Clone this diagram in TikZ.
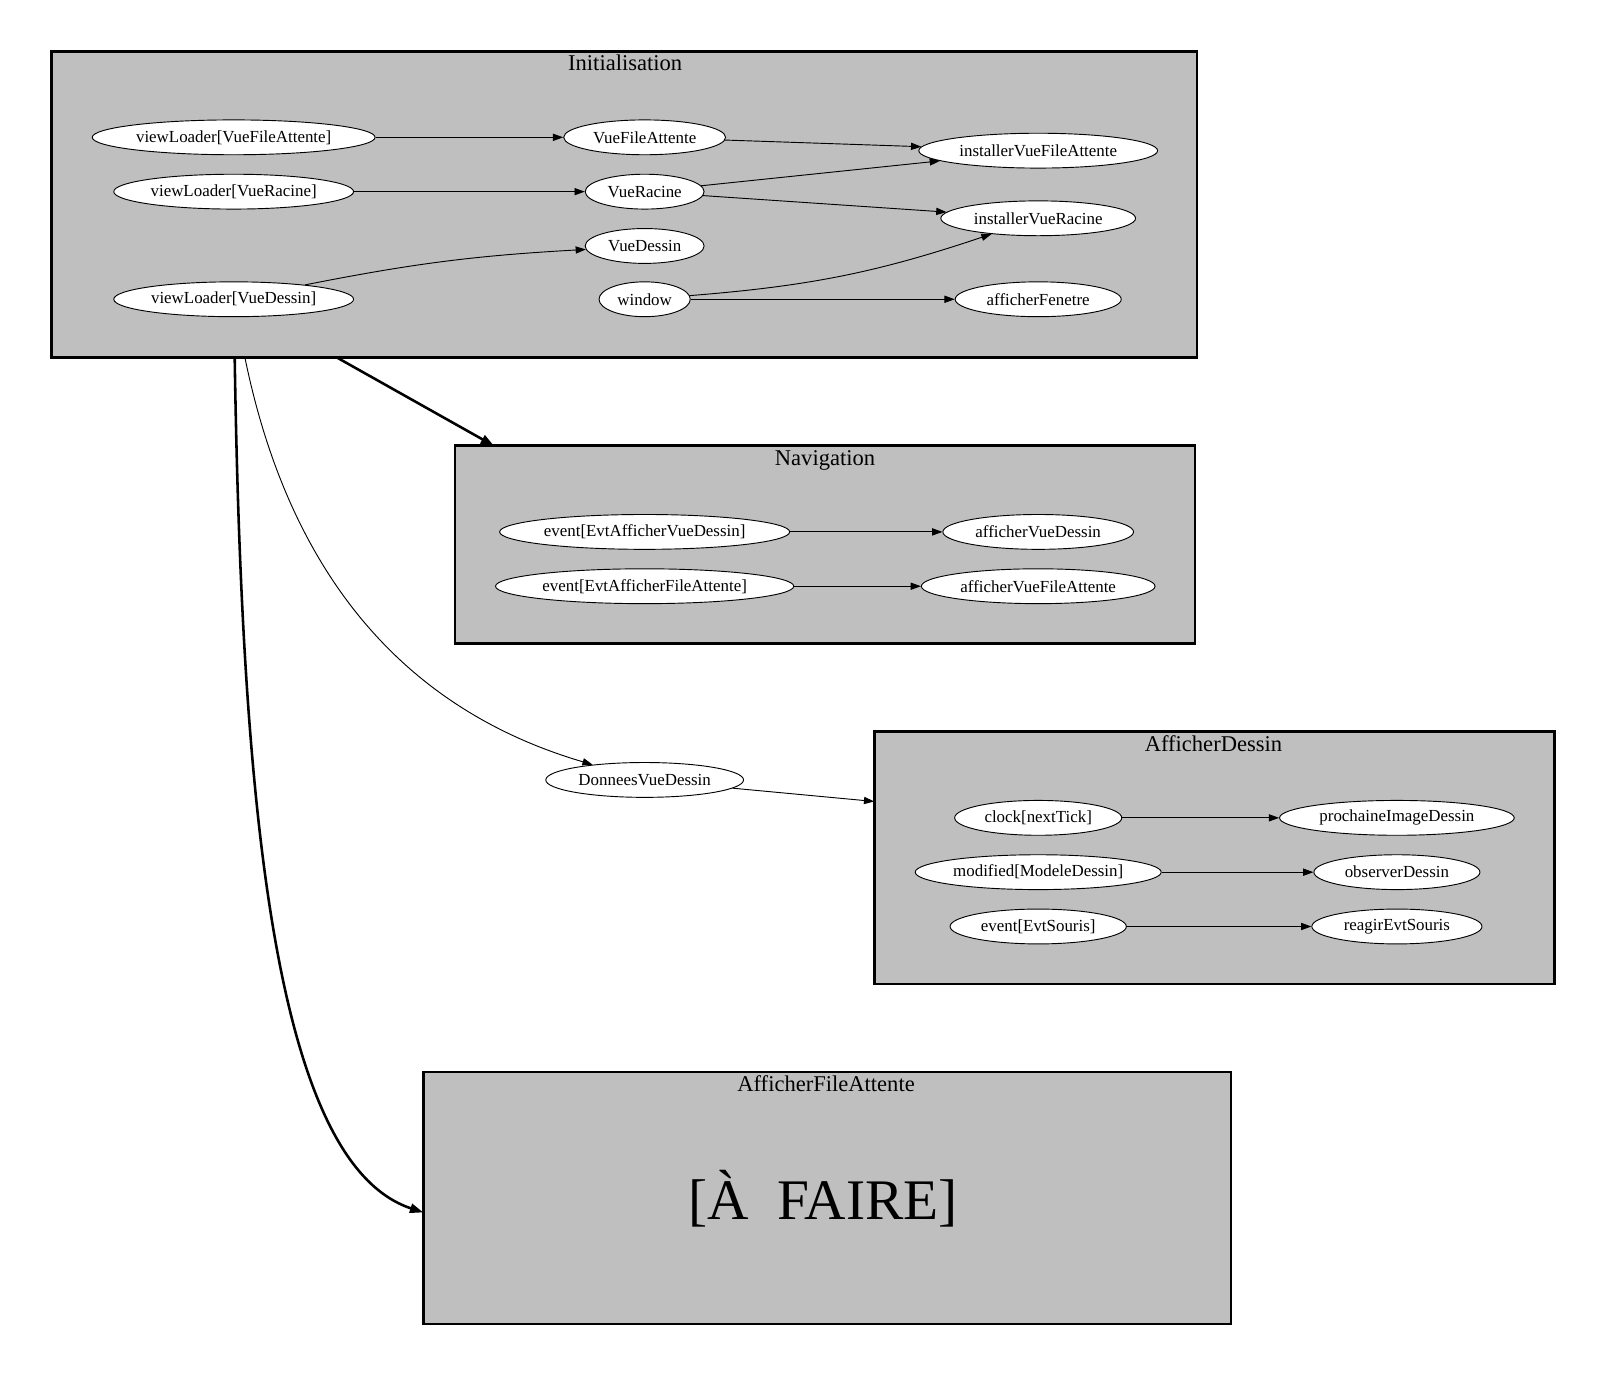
\documentclass[tikz,border=0pt]{standalone}
\usepackage{fontspec}
\setmainfont{Liberation Serif}
\usetikzlibrary{shapes.geometric,arrows.meta}
\definecolor{clgray}{RGB}{191,191,191}
\begin{document}
\begin{tikzpicture}[x=1pt,y=-1pt,
 nd/.style={ellipse, draw, fill=white, line width=0.9pt, inner sep=0pt, minimum height=34pt, font=\fontsize{16.5}{19}\selectfont},
 cl/.style={draw, fill=clgray, line width=2.6pt, inner sep=0pt},
 ttl/.style={font=\fontsize{22}{25}\selectfont, inner sep=0pt, anchor=base},
 ed/.style={line width=0.9pt, -{Triangle[length=10pt,width=7pt]}},
 thk/.style={line width=2.5pt, -{Triangle[length=13pt,width=9pt]}}]
\useasboundingbox[fill=white] (0,0) rectangle (1568,1343);

% clusters
\node[cl, minimum width=1118, minimum height=299] (init) at (609,199.5) {};
\node[cl, minimum width=722, minimum height=193] (nav) at (805,531.5) {};
\node[cl, minimum width=664, minimum height=246] (ad) at (1185,837) {};
\node[cl, minimum width=788, minimum height=246] (afa) at (807,1169) {};

\node[ttl] (tinit) at (610,69) {Initialisation};
\node[ttl] (tnav) at (805,454) {Navigation};
\node[ttl] (tad) at (1184,733) {AfficherDessin};
\node[ttl] (tafa) at (806,1065) {AfficherFileAttente};
\node[font=\fontsize{56}{60}\selectfont, inner sep=0pt] (todo) at (803,1170) {[À\ \ FAIRE]};

% Initialisation nodes
\node[nd, minimum width=276] (vlfa) at (228,134) {viewLoader[VueFileAttente]};
\node[nd, minimum width=234] (vlr) at (228,187) {viewLoader[VueRacine]};
\node[nd, minimum width=234] (vld) at (228,292) {viewLoader[VueDessin]};
\node[nd, minimum width=158] (vfa) at (629,134) {VueFileAttente};
\node[nd, minimum width=116] (vr) at (629,187) {VueRacine};
\node[nd, minimum width=116] (vd) at (629,240) {VueDessin};
\node[nd, minimum width=89] (win) at (629,292) {window};
\node[nd, minimum width=233] (ivfa) at (1013,147) {installerVueFileAttente};
\node[nd, minimum width=190] (ivr) at (1013,213) {installerVueRacine};
\node[nd, minimum width=162] (af) at (1013,292) {afficherFenetre};

\draw[ed] (vlfa) -- (vfa);
\draw[ed] (vlr) -- (vr);
\draw[ed] (vld) to[bend left=4] (vd);
\draw[ed] (vfa) -- (ivfa);
\draw[ed] (vr) -- (ivfa);
\draw[ed] (vr) -- (ivr);
\draw[ed] (win) to[bend right=7] (ivr);
\draw[ed] (win) -- (af);

% Navigation nodes
\node[nd, minimum width=283] (eavd) at (629,519) {event[EvtAfficherVueDessin]};
\node[nd, minimum width=291] (eafa) at (629,572) {event[EvtAfficherFileAttente]};
\node[nd, minimum width=186] (avd) at (1013,519) {afficherVueDessin};
\node[nd, minimum width=228] (avfa) at (1013,572) {afficherVueFileAttente};
\draw[ed] (eavd) -- (avd);
\draw[ed] (eafa) -- (avfa);

% DonneesVueDessin
\node[nd, minimum width=193] (dvd) at (629,761) {DonneesVueDessin};

% AfficherDessin nodes
\node[nd, minimum width=163] (clk) at (1013,798) {clock[nextTick]};
\node[nd, minimum width=240] (mod) at (1013,851) {modified[ModeleDessin]};
\node[nd, minimum width=172] (evs) at (1013,904) {event[EvtSouris]};
\node[nd, minimum width=229] (pid) at (1363,798) {prochaineImageDessin};
\node[nd, minimum width=162] (obs) at (1363,851) {observerDessin};
\node[nd, minimum width=166] (res) at (1363,904) {reagirEvtSouris};
\draw[ed] (clk) -- (pid);
\draw[ed] (mod) -- (obs);
\draw[ed] (evs) -- (res);

% inter-cluster connectors
\coordinate (i1) at (329,349);
\coordinate (n1) at (482,435);
\coordinate (i2) at (229,349);
\coordinate (f1) at (413,1183);
\coordinate (i3) at (239,349);
\coordinate (d1) at (853,782);

\draw[thk] (i1) -- (n1);
\draw[thk] (i2) .. controls (236,790) and (268,1135) .. (f1);
\draw[ed] (i3) .. controls (276,530) and (370,685) .. (dvd);
\draw[ed] (dvd) -- (d1);
\end{tikzpicture}
\end{document}
